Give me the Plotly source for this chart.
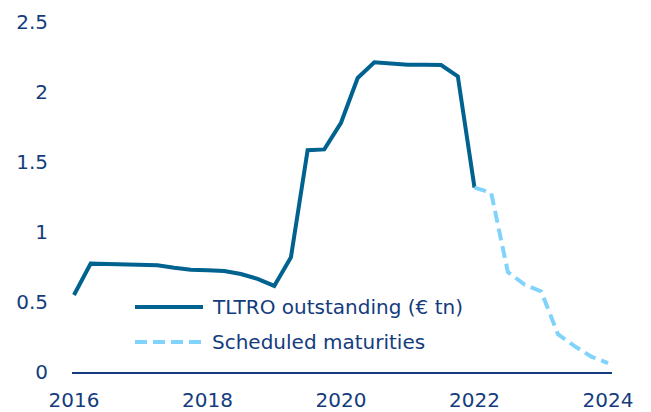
import plotly.graph_objects as go

# TLTRO outstanding (€ tn), quarterly
tltro_x = [2016.0, 2016.25, 2016.5, 2016.75, 2017.0, 2017.25, 2017.5, 2017.75,
           2018.0, 2018.25, 2018.5, 2018.75, 2019.0, 2019.25, 2019.5, 2019.75,
           2020.0, 2020.25, 2020.5, 2020.75, 2021.0, 2021.25, 2021.5, 2021.75, 2022.0]
tltro_y = [0.55, 0.774, 0.771, 0.768, 0.765, 0.762, 0.745, 0.731,
           0.726, 0.721, 0.70, 0.665, 0.615, 0.82, 1.584, 1.59,
           1.78, 2.10, 2.212, 2.203, 2.195, 2.194, 2.193, 2.112, 1.317]

# Scheduled maturities
sched_x = [2022.0, 2022.25, 2022.5, 2022.75, 2023.0, 2023.25, 2023.5, 2023.75, 2024.0]
sched_y = [1.317, 1.28, 0.714, 0.625, 0.575, 0.27, 0.185, 0.11, 0.064]

x_ticks = [2016, 2018, 2020, 2022, 2024]
y_ticks = [0, 0.5, 1, 1.5, 2, 2.5]
y_tick_text = ["0", "0.5", "1", "1.5", "2", "2.5"]

names = ["TLTRO outstanding (€ tn)", "Scheduled maturities"]

NAVY = "#143c7d"
DARK = "#00628f"
LIGHT = "#80d4fb"
FONT = "DejaVu Sans"
FS = 20

fig = go.Figure()
fig.add_trace(go.Scatter(x=tltro_x, y=tltro_y, mode="lines", name=names[0],
                         line=dict(color=DARK, width=4), showlegend=False))
fig.add_trace(go.Scatter(x=sched_x, y=sched_y, mode="lines", name=names[1],
                         line=dict(color=LIGHT, width=4, dash="12px,6px"), showlegend=False))

# page body has an 8px margin: compensate so the plot lands where intended
OFF = 8
W, H = 651 - OFF, 412 - OFF
L, T, B, R = 72 - OFF, 14.7 - OFF, 40.3, 39
pw, ph = W - L - R, H - T - B

def px(xp):  # window pixel -> paper
    return (xp - OFF - L) / pw

def py(yp):
    return (H - B - (yp - OFF)) / ph

legend_rows = [(306.7, DARK, "solid"), (341.7, LIGHT, "12px,6px")]
for (yy, col, dash), name in zip(legend_rows, names):
    fig.add_shape(type="line", xref="paper", yref="paper",
                  x0=px(135), x1=px(203), y0=py(yy), y1=py(yy),
                  line=dict(color=col, width=4, dash=dash))
    fig.add_annotation(xref="paper", yref="paper", x=px(210), y=py(yy),
                       text=name, showarrow=False, xanchor="left", yanchor="middle",
                       font=dict(family=FONT, size=FS, color=NAVY))

fig.update_layout(
    width=W, height=H,
    margin=dict(l=L, r=R, t=T, b=B, autoexpand=False),
    paper_bgcolor="white", plot_bgcolor="white",
    font=dict(family=FONT, size=FS, color=NAVY),
    xaxis=dict(range=[2015.97, 2024.06], tickvals=x_ticks, ticktext=[str(v) for v in x_ticks],
               showgrid=False, zeroline=False, showline=True, linecolor=NAVY, linewidth=2,
               ticks="", ticklabelstandoff=9, automargin=False,
               tickfont=dict(family=FONT, size=FS, color=NAVY)),
    yaxis=dict(range=[0, 2.55], tickvals=y_ticks, ticktext=y_tick_text,
               showgrid=False, zeroline=False, showline=False, automargin=False,
               ticks="", ticklabelstandoff=23, tickfont=dict(family=FONT, size=FS, color=NAVY)),
)

fig.write_html("out.html")
